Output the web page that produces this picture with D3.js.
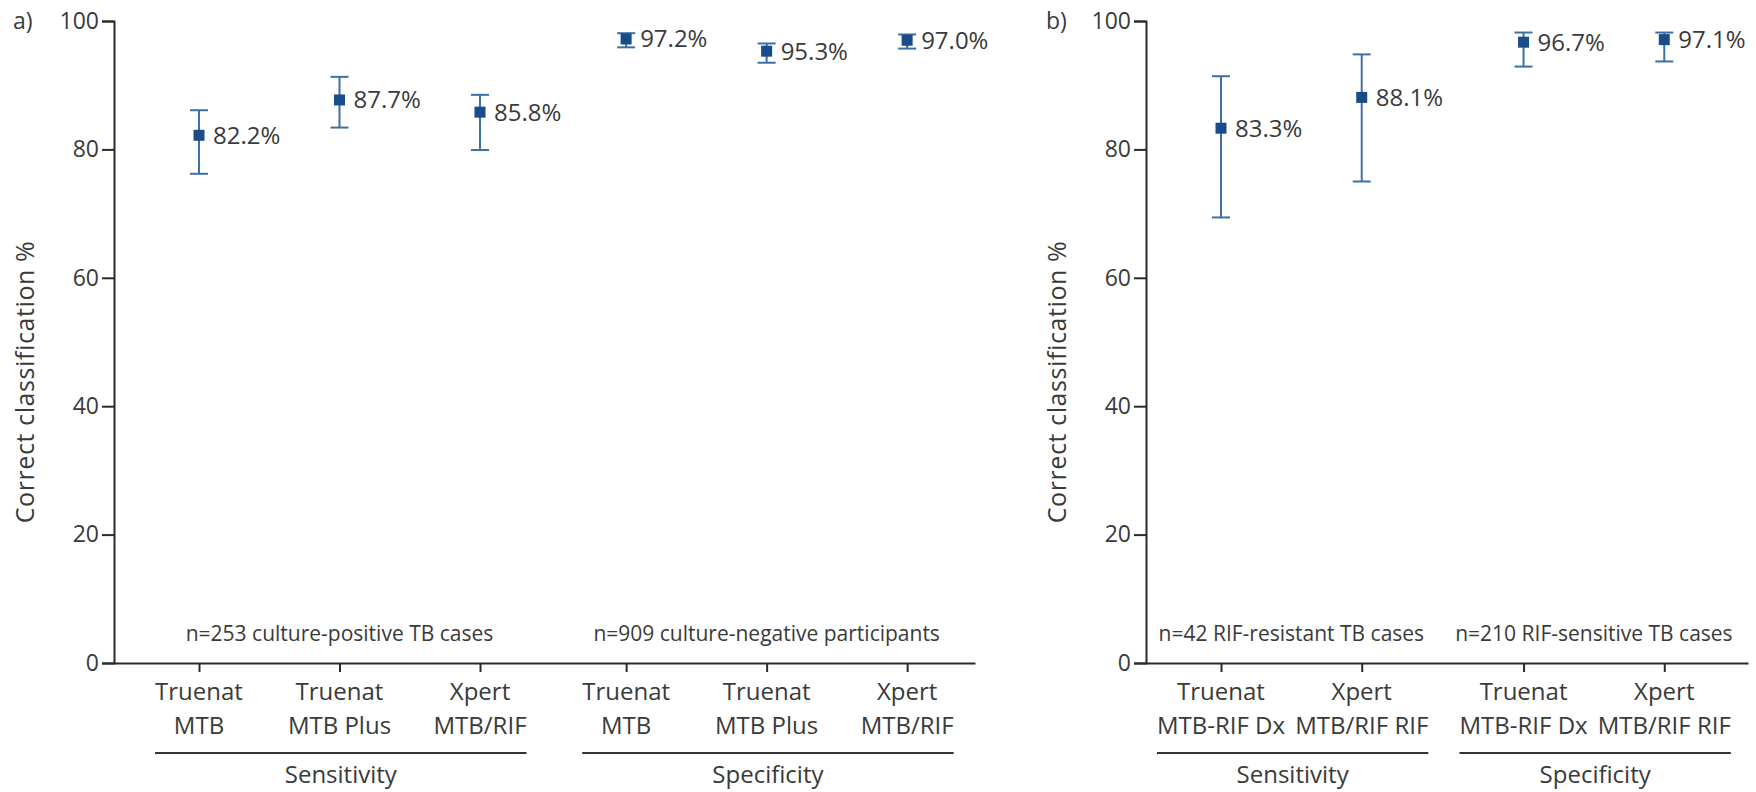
<!DOCTYPE html>
<html>
<head>
<meta charset="utf-8">
<script src="https://cdn.jsdelivr.net/npm/d3@7"></script>
<style>
  body { margin: 0; background: #fff; }
  text { font-family: "Open Sans", sans-serif; fill: #3a3a3a; }
</style>
</head>
<body>
<svg id="chart"></svg>
<script>
// ---- data ----
const yTicks = [0, 20, 40, 60, 80, 100];

// panel a
const labelsA = [["Truenat", "MTB"], ["Truenat", "MTB Plus"], ["Xpert", "MTB/RIF"],
                 ["Truenat", "MTB"], ["Truenat", "MTB Plus"], ["Xpert", "MTB/RIF"]];
const groupIdxA = [0, 0, 0, 1, 1, 1];
const valuesA = [82.2, 87.7, 85.8, 97.2, 95.3, 97.0];
const lowerA = [76.2, 83.4, 79.9, 95.9, 93.5, 95.7];
const upperA = [86.1, 91.3, 88.5, 98.1, 96.5, 97.9];
const groupsA = ["Sensitivity", "Specificity"];
const notesA = ["n=253 culture-positive TB cases", "n=909 culture-negative participants"];

// panel b
const labelsB = [["Truenat", "MTB-RIF Dx"], ["Xpert", "MTB/RIF RIF"],
                 ["Truenat", "MTB-RIF Dx"], ["Xpert", "MTB/RIF RIF"]];
const groupIdxB = [0, 0, 1, 1];
const valuesB = [83.3, 88.1, 96.7, 97.1];
const lowerB = [69.4, 75.0, 92.9, 93.7];
const upperB = [91.4, 94.8, 98.2, 98.2];
const groupsB = ["Sensitivity", "Specificity"];
const notesB = ["n=42 RIF-resistant TB cases", "n=210 RIF-sensitive TB cases"];

// ---- layout ----
const W = 1756, H = 792;
const svg = d3.select('#chart').attr('width', W).attr('height', H);

const y = d3.scaleLinear().domain([0, 100]).range([663, 21]);

const markColor = '#1b4c8a';
const barColor = '#3d6fa5';
const axisColor = '#2a2a2a';

function drawPanel(opt) {
  const g = svg.append('g');
  // slot positions: index plus a little extra space between the two groups
  const slots = opt.groupIdx.map((gi, i) => i + gi * opt.groupGap);
  const x = d3.scaleLinear().domain(opt.slotDomain).range(opt.xRange);

  // y axis
  g.append('g')
      .attr('transform', 'translate(' + opt.xRange[0] + ',0)')
      .call(d3.axisLeft(y).tickValues(yTicks).tickSize(12).tickPadding(3))
      .call(s => s.select('.domain').attr('stroke', axisColor).attr('stroke-width', 2))
      .call(s => s.selectAll('.tick line').attr('stroke', axisColor).attr('stroke-width', 2))
      .call(s => s.selectAll('.tick text').attr('font-size', 23).attr('fill', '#3a3a3a')
          .style('font-family', '"Open Sans", sans-serif'));

  // x axis
  g.append('g')
      .attr('transform', 'translate(0,' + y(0) + ')')
      .call(d3.axisBottom(x).tickValues(slots).tickFormat('').tickSize(9).tickSizeOuter(0))
      .call(s => s.select('.domain').attr('stroke', axisColor).attr('stroke-width', 2))
      .call(s => s.selectAll('.tick line').attr('stroke', axisColor).attr('stroke-width', 2));

  // category labels
  const lab = g.append('g').selectAll('text')
      .data(opt.labels)
      .enter().append('text')
      .attr('text-anchor', 'middle')
      .attr('font-size', 24)
      .attr('x', (d, i) => x(slots[i]))
      .attr('y', y(0) + 37);
  lab.append('tspan').text(d => d[0]);
  lab.append('tspan').attr('x', (d, i) => x(slots[i])).attr('dy', 34).text(d => d[1]);

  // group underlines, notes and names
  opt.groups.forEach(function(name, gi) {
    const idx = d3.range(opt.labels.length).filter(i => opt.groupIdx[i] === gi);
    let left = Infinity, right = -Infinity;
    lab.filter((d, i) => opt.groupIdx[i] === gi).each(function() {
      const b = this.getBBox();
      left = Math.min(left, b.x);
      right = Math.max(right, b.x + b.width);
    });
    const cx = (x(slots[idx[0]]) + x(slots[idx[idx.length - 1]])) / 2;
    g.append('line')
        .attr('x1', left).attr('x2', right)
        .attr('y1', y(0) + 90).attr('y2', y(0) + 90)
        .attr('stroke', '#333').attr('stroke-width', 2);
    g.append('text')
        .attr('x', (left + right) / 2).attr('y', y(0) + 120)
        .attr('text-anchor', 'middle').attr('font-size', 24)
        .text(name);
    g.append('text')
        .attr('x', cx).attr('y', y(0) - 22)
        .attr('text-anchor', 'middle').attr('font-size', 21)
        .text(opt.notes[gi]);
  });

  // error bars
  const pts = g.append('g').selectAll('g')
      .data(opt.values.map((v, i) => ({v: v, lo: opt.lower[i], hi: opt.upper[i], s: slots[i]})))
      .enter().append('g');
  pts.append('line')
      .attr('x1', d => x(d.s)).attr('x2', d => x(d.s))
      .attr('y1', d => y(d.lo)).attr('y2', d => y(d.hi))
      .attr('stroke', barColor).attr('stroke-width', 2);
  ['lo', 'hi'].forEach(function(k) {
    pts.append('line')
        .attr('x1', d => x(d.s) - 9).attr('x2', d => x(d.s) + 9)
        .attr('y1', d => y(d[k])).attr('y2', d => y(d[k]))
        .attr('stroke', barColor).attr('stroke-width', 2);
  });
  pts.append('rect')
      .attr('x', d => x(d.s) - 5.5).attr('y', d => y(d.v) - 5.5)
      .attr('width', 11).attr('height', 11)
      .attr('fill', markColor);
  pts.append('text')
      .attr('x', d => x(d.s) + 14).attr('y', d => y(d.v))
      .attr('dy', '0.35em').attr('font-size', 24)
      .text(d => d.v.toFixed(1) + '%');

  // y title and panel letter
  g.append('text')
      .attr('transform', 'translate(' + (opt.xRange[0] - 89) + ',' + 382 + ') rotate(-90)')
      .attr('text-anchor', 'middle').attr('dy', '0.35em').attr('font-size', 25)
      .attr('letter-spacing', 0.6)
      .text('Correct classification %');
  g.append('text')
      .attr('x', opt.letterX).attr('y', y(100)).attr('dy', '0.35em')
      .attr('font-size', 23)
      .text(opt.letter);
}

drawPanel({
  labels: labelsA, groupIdx: groupIdxA, values: valuesA, lower: lowerA, upper: upperA,
  groups: groupsA, notes: notesA, groupGap: 0.04,
  slotDomain: [-0.605, 5.523], xRange: [114, 975],
  letter: 'a)', letterX: 13
});

drawPanel({
  labels: labelsB, groupIdx: groupIdxB, values: valuesB, lower: lowerB, upper: upperB,
  groups: groupsB, notes: notesB, groupGap: 0.15,
  slotDomain: [-0.533, 3.745], xRange: [1146, 1748],
  letter: 'b)', letterX: 1046
});
</script>
</body>
</html>
